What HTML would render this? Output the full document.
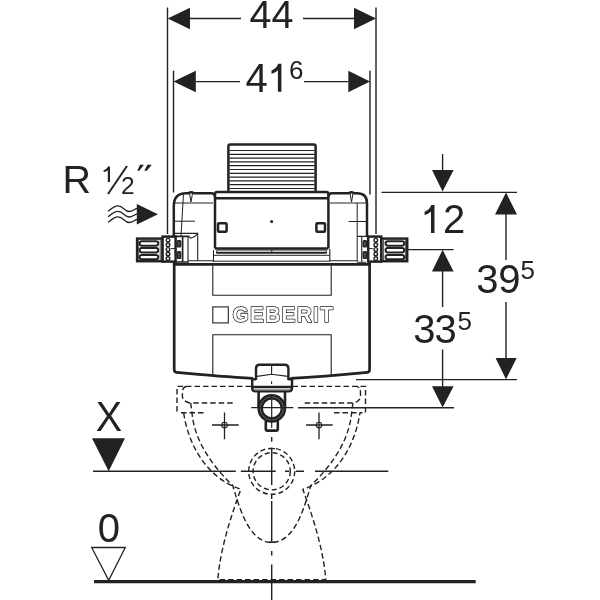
<!DOCTYPE html>
<html><head><meta charset="utf-8"><style>
html,body{margin:0;padding:0;background:#fff;width:600px;height:600px;overflow:hidden}
svg{display:block;will-change:transform}
text{font-family:"Liberation Sans",sans-serif;fill:#222}
</style></head><body>
<svg width="600" height="600" viewBox="0 0 600 600">
<g fill="none" stroke="#222" stroke-linecap="butt">

<!-- ===== top dimensions ===== -->
<g stroke-width="1.4">
<path d="M167.5 7.5V234M376 7.5V234M173.5 70.8V192.5M370 70.8V194.5"/>
<path d="M190 18.5H241M303 18.5H354M195.8 81.6H240M304 81.6H348.3"/>
</g>
<g fill="#222" stroke="none">
<path d="M167.7 18.5L190 7.7V29.3Z"/>
<path d="M376 18.5L354 7.7V29.3Z"/>
<path d="M173.5 81.6L195.8 70.8V92.2Z"/>
<path d="M370 81.6L348.3 70.8V92.2Z"/>
</g>

<!-- ===== right dimensions ===== -->
<g stroke-width="1.4">
<path d="M381.5 192.4H517M408 249.6H453.6M356 379.6H517M298 407.8H454"/>
<path d="M442.6 154V171M442.6 271V307M442.6 349.6V387"/>
<path d="M506 214V260M506 302V359"/>
</g>
<g fill="#222" stroke="none">
<path d="M442.6 191.5L432 170H453.6Z"/>
<path d="M442.6 249.8L432 271.6H453.6Z"/>
<path d="M442.6 407.5L432 386.3H453.6Z"/>
<path d="M506 192.6L495 214.4H517Z"/>
<path d="M506 379.2L495.6 358H516.7Z"/>
</g>

<!-- ===== floor / X lines ===== -->
<path d="M94 581.7H475.7" stroke-width="3.2"/>
<path d="M92 438.3H125L108.7 471.3Z" fill="#222" stroke="none"/>
<path d="M91.7 547.5H125.3L108.7 580.3Z" stroke-width="1.3"/>

<!-- ===== wave arrow ===== -->
<g stroke-width="1.3">
<path d="M108 211.3C112 208 114.5 205.9 118 205.9C123 205.9 125 211.5 129 211.5C132 211.5 134 209.5 137 208.3"/>
<path d="M108 216.8C112 213.5 114.5 211.4 118 211.4C123 211.4 125 217 129 217C132 217 134 215 137 213.8"/>
<path d="M108 222.3C112 219 114.5 216.9 118 216.9C123 216.9 125 222.5 129 222.5C132 222.5 134 220.5 137 219.3"/>
</g>
<path d="M136.8 203.9L158 214.3L136.8 224.5Z" fill="#222" stroke="none"/>
<!-- ===== body ===== -->
<!-- threaded block -->
<path d="M228.4 191.5V146.2Q228.4 144.4 230.2 144.4H313.8Q315.6 144.4 315.6 146.2V191.5" stroke-width="2.5"/>
<path d="M229.5 150.5H314.5M229.5 154.3H314.5M229.5 158.1H314.5M229.5 161.9H314.5M229.5 165.7H314.5M229.5 169.5H314.5M229.5 173.3H314.5M229.5 177.1H314.5M229.5 180.9H314.5M229.5 184.7H314.5M229.5 188.5H314.5" stroke-width="1.2"/>
<!-- plate + inner box -->
<path d="M215 248.5V194Q215 191.9 217.1 191.9H326.3Q328.4 191.9 328.4 194V248.5" stroke-width="2.5"/>
<path d="M215 198.2H328.2" stroke-width="2.5"/>
<path d="M215 248.5H328.2" stroke-width="2.5"/>
<rect x="216.5" y="250" width="110" height="3" rx="1.5" stroke-width="1"/>
<path d="M216 252.6H327" stroke-width="1.6"/>
<path d="M271.8 250V253" stroke-width="1"/>
<path d="M213.5 255.3H329.8M213.5 250V262M213.5 261.2H329.8" stroke-width="1"/>
<circle cx="271.6" cy="221.4" r="1.5" fill="#222" stroke="none"/>
<rect x="218" y="223.2" width="8.6" height="8.6" rx="1" stroke-width="2.5"/>
<rect x="316.4" y="223.2" width="8.6" height="8.6" rx="1" stroke-width="2.5"/>
<!-- left upper section -->
<path d="M173.8 236V206Q173.8 193.2 186 193.2H188.5Q191 191.2 194 193.2H211.5Q214.5 193.2 215 196.5" stroke-width="2.5"/>
<path d="M175 203H213M189.5 193.5L191 202L192.5 193.5M183.5 193.5L181 236M175 221.2H195" stroke-width="1"/>
<path d="M174.7 233.4H197.7V261M189.3 236.6L190.7 238.3Q194.5 237.6 197.5 233.8M188 237V261M188 260.8H213.5" stroke-width="1.1"/>
<path d="M174 236.4H189.3M182.6 237V262M174 262H189" stroke-width="1.7"/>
<!-- right upper section -->
<path d="M328.4 196.5Q329 193.2 332 193.2H349Q351.5 191.2 354 193.2H357Q367 193.2 367 203V237" stroke-width="2.5"/>
<path d="M330 203H366M350 193.5L351.5 202L353 193.5M357.2 203V262M348.5 221.5H366" stroke-width="1"/>
<path d="M357.2 236.4H367M329.8 249V261M329 260.8H357.3M357.3 262.3H366M361.7 237V262" stroke-width="1.1"/>
<!-- connectors -->
<g><rect x="137.1" y="238.6" width="25.4" height="22.6" fill="#fff" stroke-width="2.5"/>
<rect x="139.6" y="241.3" width="18.6" height="4.4" rx="2.1" fill="#fff" stroke-width="2"/>
<rect x="139.6" y="248.0" width="18.6" height="4.4" rx="2.1" fill="#fff" stroke-width="2"/>
<rect x="139.6" y="255.0" width="18.6" height="4.3" rx="2.1" fill="#fff" stroke-width="2"/>
<path d="M138.2 240V260M160.2 240V260" stroke-width="0.8"/>
<rect x="162.6" y="236.6" width="13.0" height="25.0" fill="#fff" stroke-width="2.5"/>
<g stroke-width="1.4"><circle cx="168.0" cy="240.2" r="1.8"/><circle cx="168.0" cy="244.8" r="1.8"/><circle cx="168.0" cy="249.4" r="1.8"/><circle cx="168.0" cy="254.0" r="1.8"/><circle cx="168.0" cy="258.6" r="1.8"/></g>
<path d="M171.0 248.6H176.0" stroke-width="1"/>
<rect x="177.4" y="240.7" width="3.1" height="6.1" rx="0.8" fill="#555" stroke-width="1.6"/>
<rect x="177.4" y="251.7" width="3.1" height="6.5" rx="0.8" fill="#555" stroke-width="1.6"/></g>
<g><rect x="381.3" y="238.6" width="25.9" height="22.6" fill="#fff" stroke-width="2.5"/>
<rect x="385.6" y="241.3" width="18.6" height="4.4" rx="2.1" fill="#fff" stroke-width="2"/>
<rect x="385.6" y="248.0" width="18.6" height="4.4" rx="2.1" fill="#fff" stroke-width="2"/>
<rect x="385.6" y="255.0" width="18.6" height="4.3" rx="2.1" fill="#fff" stroke-width="2"/>
<path d="M405.6 240V260M383.6 240V260" stroke-width="0.8"/>
<rect x="368.2" y="236.6" width="13.0" height="25.0" fill="#fff" stroke-width="2.5"/>
<g stroke-width="1.4"><circle cx="375.8" cy="240.2" r="1.8"/><circle cx="375.8" cy="244.8" r="1.8"/><circle cx="375.8" cy="249.4" r="1.8"/><circle cx="375.8" cy="254.0" r="1.8"/><circle cx="375.8" cy="258.6" r="1.8"/></g>
<path d="M372.8 248.6H367.8" stroke-width="1"/>
<rect x="363.3" y="240.7" width="3.1" height="6.1" rx="0.8" fill="#555" stroke-width="1.6"/>
<rect x="363.3" y="251.7" width="3.1" height="6.5" rx="0.8" fill="#555" stroke-width="1.6"/></g>
<!-- tank -->
<path d="M174.2 262V369.8Q174.2 372.1 176.5 372.3Q222 376.6 253 378.3M290.5 378.3Q322 376.6 367.3 372.3Q369.6 372.1 369.6 369.8V262" stroke-width="2.7"/>
<path d="M172.9 264.4H370.9" stroke-width="2.6"/>
<path d="M212.8 265.5V295.3H331.2V265.5M212.8 375.8V334.8H331.2V375.2" stroke-width="1.1"/>
<rect x="212.8" y="306.9" width="15.5" height="16" stroke-width="1.1"/>
<g transform="translate(232.6 322.2) scale(0.935 1.0)" font-size="22.4" font-weight="bold" stroke-linejoin="round" letter-spacing="1.3">
<text x="0" y="0" stroke="#222" stroke-width="1.5" style="fill:#222">GEBERIT</text>
<text x="0" y="0" stroke="none" style="fill:#fff">GEBERIT</text>
</g>
<!-- nut -->
<path d="M252.2 379V388Q252.2 391.4 255.6 391.4H288.6Q292 391.4 292 388V379" fill="#fff" stroke-width="2.4"/>
<path d="M256 380V368.4Q256 364.8 259.6 364.8H284.8Q288.4 364.8 288.4 368.4V380" fill="#fff" stroke-width="2.4"/>
<path d="M251 379.2H256M288.4 379.2H293.2" stroke-width="2.4"/>
<path d="M271.6 365.5V374.6M257 376.4L271.6 374.2L288 376.4M271.6 381.2V384" stroke-width="1.1"/>
<path d="M253 387H291.2" stroke-width="2.3"/>
<path d="M254 389.8H290" stroke-width="0.8" stroke="#666"/>
<path d="M258.6 391.5V408M285 391.5V408" stroke-width="2.6"/>
<path d="M265.8 421V429.5Q265.8 430.6 267 430.6H276.6Q277.8 430.6 277.8 429.5V421" fill="#fff" stroke-width="2.6"/>
<circle cx="271.8" cy="408.4" r="11.6" fill="#fff" stroke-width="5.6"/>
<circle cx="271.8" cy="408.4" r="11.6" stroke="#888" stroke-width="0.6"/>
<path d="M251.3 407.6H293.3M271.7 396V428" stroke-width="1.2"/>
<!-- ===== toilet (dashed) ===== -->
<g stroke-width="1.4" stroke-dasharray="5.5 3">
<path d="M251 386.4H177V412.7"/>
<path d="M292.5 386.4H365.5V412.7"/>
<path d="M232.7 403H189.5Q182.4 401 182.4 396V392.5Q182.4 386.6 187 386.4"/>
<path d="M304.7 403H354Q360.5 401 360.5 396V392.5Q360.5 386.6 356 386.4"/>
<path d="M181 412.7H206M334 412.7H362.5"/>
<path d="M183.7 413C188.2 444 205.4 474.6 235.2 487.2L240.8 489.3C230.2 518.6 220.4 548.7 217.8 579.6H325.8 C323.2 548.7 313.4 518.6 302.8 489.3L308.4 487.2C338.2 474.6 355.4 444 359.9 413"/>
<path d="M190.7 403L192 413.3C194.9 441.9 212.6 466.1 232.7 485.5C238.5 503.7 247.5 542.2 271.7 542.5C296.1 542.2 305.1 503.7 310.9 485.5C331.0 466.1 348.7 441.9 351.6 413.3L352.9 403"/>
</g>
<g stroke-width="1.4" stroke-dasharray="5 3">
<circle cx="271.7" cy="471.3" r="23"/>
<circle cx="271.7" cy="471.3" r="18.6"/>
</g>
<!-- centre lines -->
<path d="M271.7 437V441.7M271.7 448.3V485M271.7 494.5V499M271.7 501V542.3M271.7 551V555.4M271.7 564.4V600M268.5 448.6H275M268.5 542.3H275" stroke-width="1.4"/>
<path d="M93 471.3H235.8M240.8 471.3H275.8M285 471.3H289M295.8 471.3H304M315 471.3H388.3" stroke-width="1.4"/>
<!-- crosshairs -->
<g stroke-width="1.3">
<path d="M212 425H238.7M224.5 412.5V439.2M306 425H332.7M319 412.5V439.2"/>
<circle cx="224.5" cy="425" r="2.8" stroke-width="1.1"/>
<circle cx="319" cy="425" r="2.8" stroke-width="1.1"/>
</g>

<!-- R 1/2 " -->
<path d="M108 194L127 166" stroke-width="2"/>
<path d="M140 164.8L144 164.8L139.4 170.8L137.2 170.8Z M147.4 164.8L151.8 164.8L146.8 170.8L144.3 170.8Z" fill="#222" stroke="none"/>

</g>

<!-- text -->
<g>
<text x="249.6" y="28.3" font-size="39.5">44</text>
<text x="245.5" y="91.8" font-size="40">4</text>
<text x="289" y="78.7" font-size="26">6</text>
<text x="443" y="233" font-size="40">2</text>
<text x="413.3" y="343.3" font-size="40">3</text>
<text x="434.5" y="343.3" font-size="40">3</text>
<text x="457.4" y="329.5" font-size="26">5</text>
<text x="476.3" y="293.3" font-size="40">3</text>
<text x="498.3" y="293.3" font-size="40">9</text>
<text x="520.6" y="279.3" font-size="26">5</text>
<text x="62.5" y="193.3" font-size="39.5">R</text>
<text x="121.1" y="193.7" font-size="24.5">2</text>
<text transform="translate(95.8 430.8) scale(1 1.055)" font-size="39.5">X</text>
<text x="97.7" y="541.7" font-size="40">0</text>
</g>
<!-- custom "1" glyphs -->
<g fill="#222">
<path d="M278.2 63.8h3.2v28h-3.5v-21.5c-1.8 1.7-4.3 2.9-6.4 3.4v-3.2c2.6-0.9 5.4-3 6.7-6.7z"/>
<path d="M431.3 205h3.2v28h-3.5v-21.5c-1.8 1.7-4.3 2.9-6.4 3.4v-3.2c2.6-0.9 5.4-3 6.7-6.7z"/>
<path d="M108 166.5h2v15.5h-2.2v-11.8c-1.1 0.9-2.6 1.6-4.2 1.9v-1.8c1.6-0.5 3.3-1.7 4.4-3.8z"/>
</g>

</svg>
</body></html>
